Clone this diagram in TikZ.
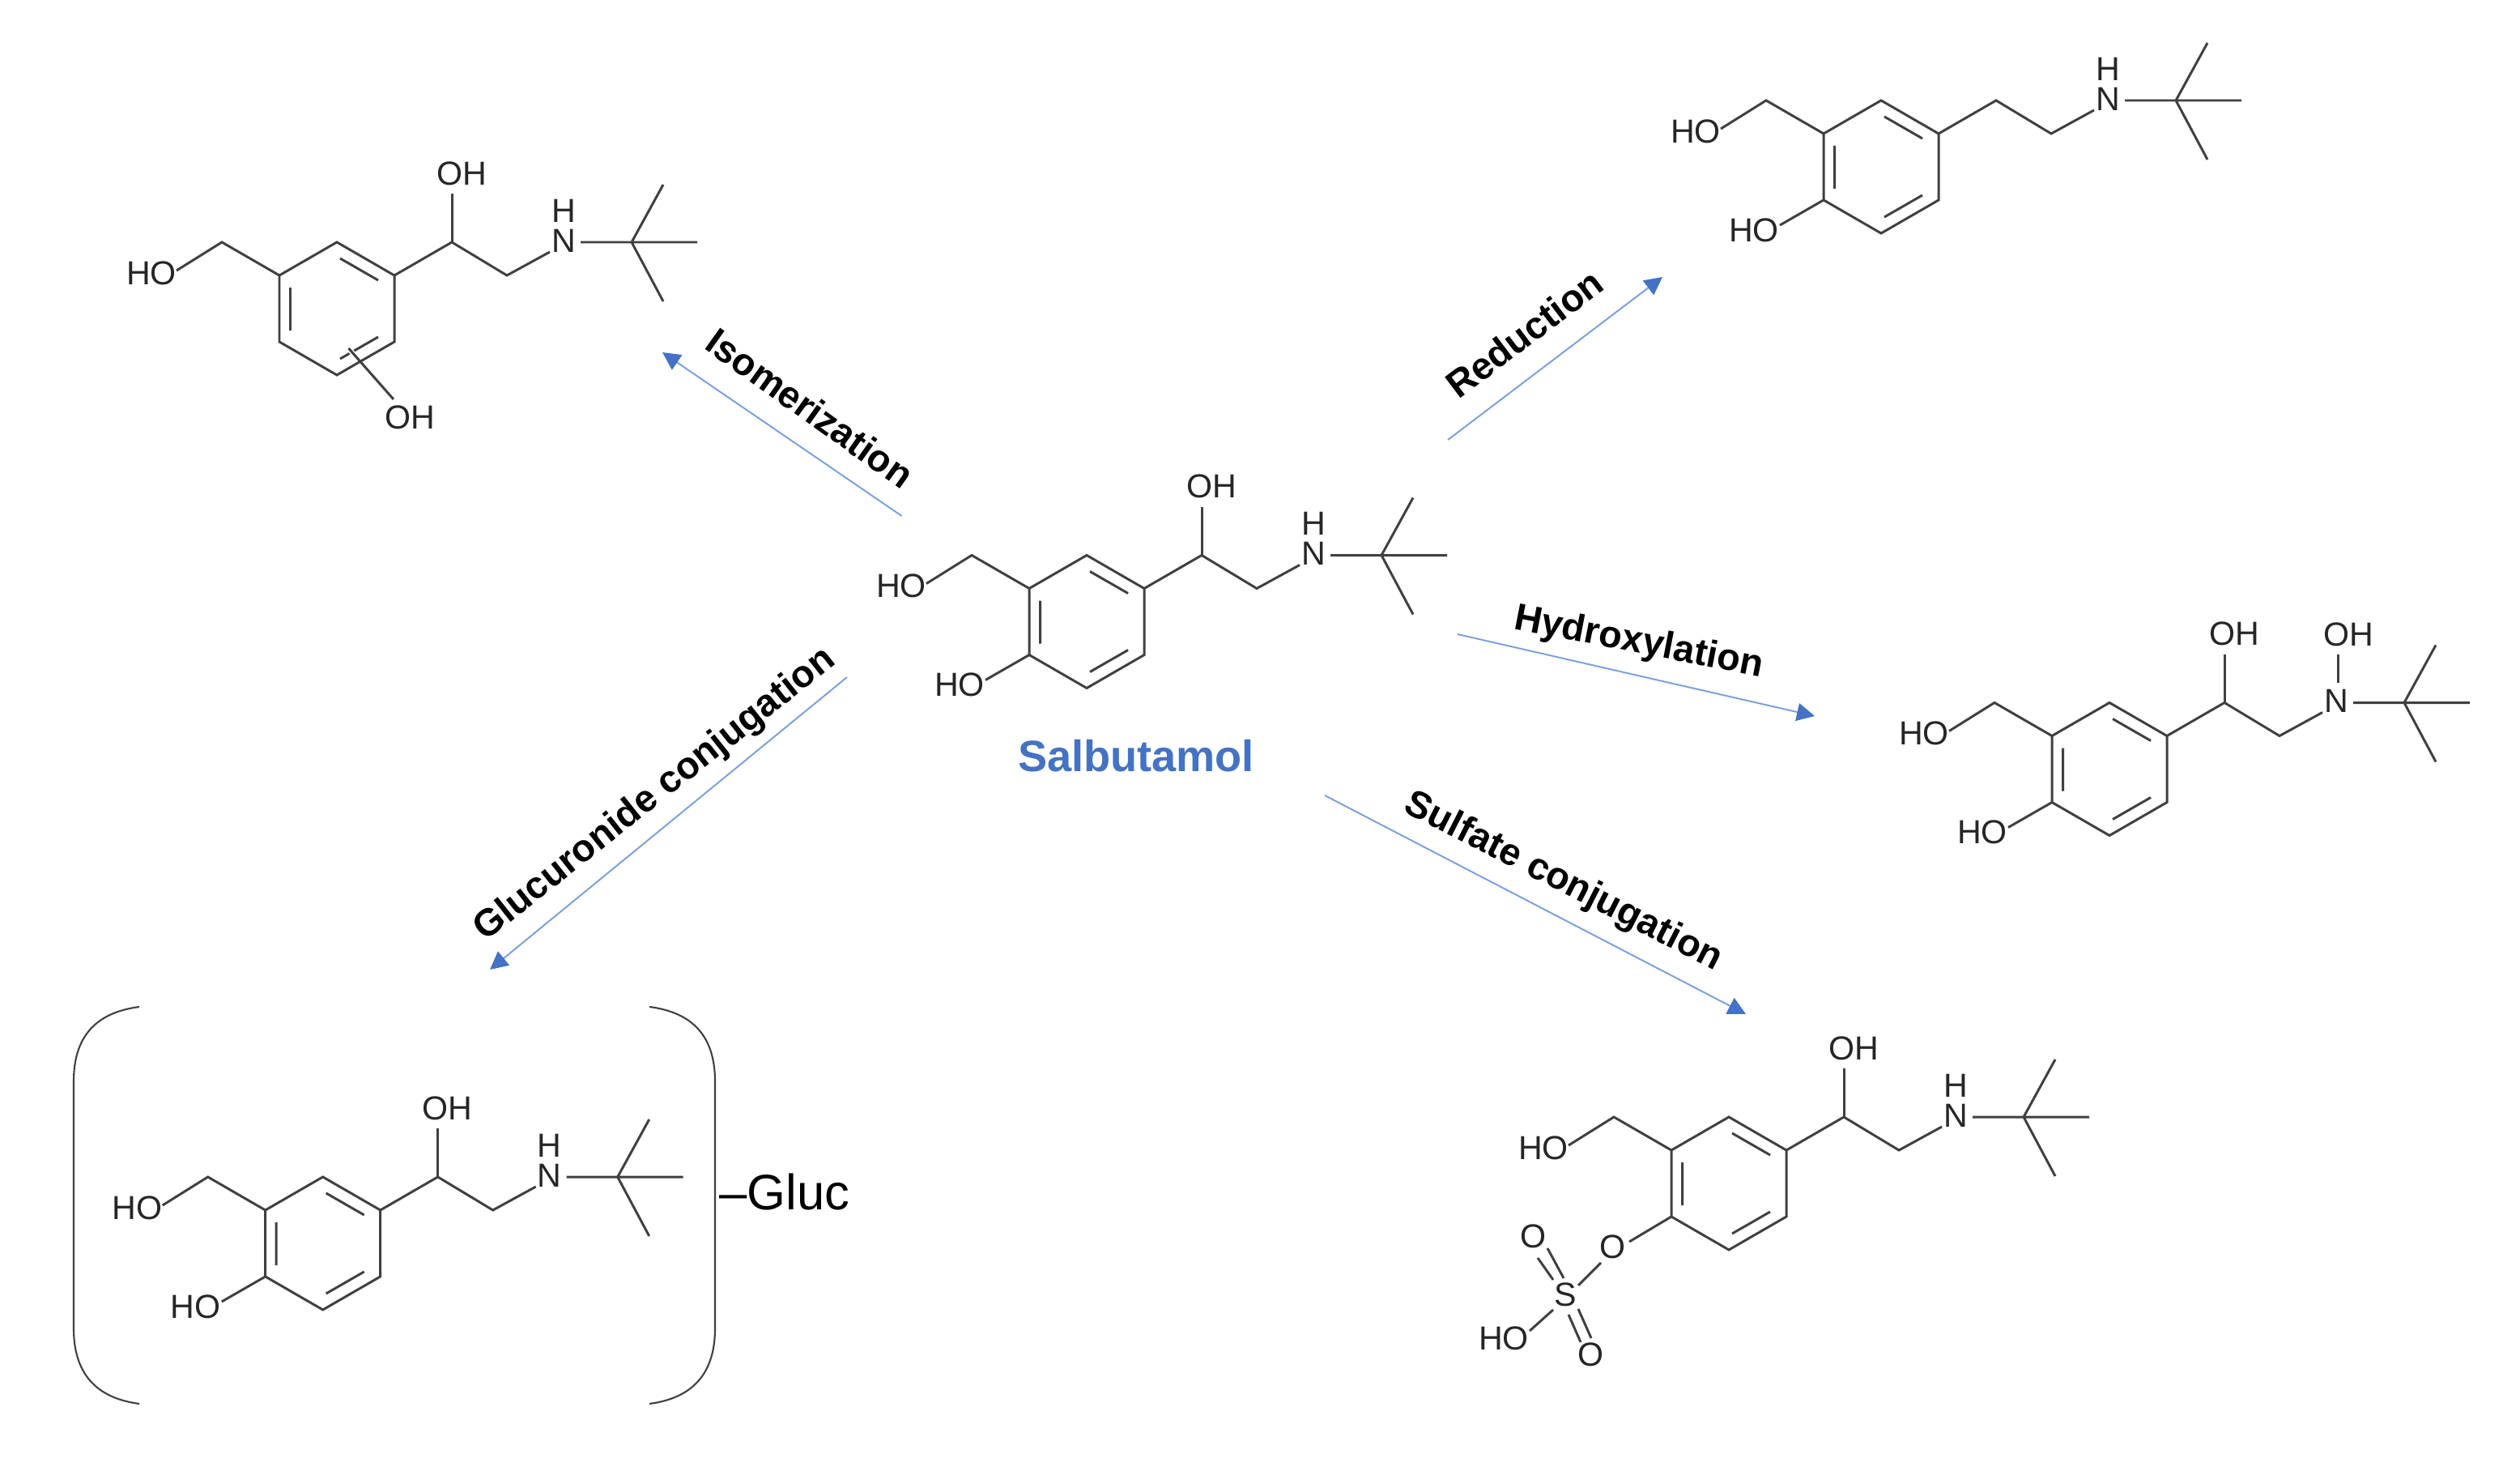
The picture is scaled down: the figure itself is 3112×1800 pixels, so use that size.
\documentclass[tikz,border=0pt]{standalone}
\usepackage{fontspec}
\setmainfont{Liberation Sans}
\usetikzlibrary{arrows.meta}
\definecolor{bondc}{HTML}{404040}
\definecolor{txtc}{HTML}{262626}
\definecolor{arrowc}{HTML}{7A9FDC}
\definecolor{tipc}{HTML}{4472C4}
\tikzset{
  bond/.style={draw=bondc,line width=0.85pt,line join=miter},
  atom/.style={inner sep=0pt,text=txtc,font=\fontsize{11.7}{12}\selectfont},
  react/.style={draw=arrowc,line width=0.55pt,-{Triangle[length=2.2mm,width=2.2mm,color=tipc]}},
  rlabel/.style={inner sep=0pt,text=black,font=\fontsize{13.3}{14}\selectfont\bfseries,text height=0.72em,text depth=0.21em},
  ringgroup/.pic={
    \coordinate (r1) at (0,-82); \coordinate (r2) at (71,-41); \coordinate (r3) at (71,41);
    \coordinate (r4) at (0,82); \coordinate (r5) at (-71,41); \coordinate (r6) at (-71,-41);
    \coordinate (ch) at (-142,-82); \coordinate (hoe) at (-198,-47);
    \coordinate (d1a) at (4,-62); \coordinate (d1b) at (51,-35);
    \coordinate (d2a) at (-57.5,-26); \coordinate (d2b) at (-57.5,27);
    \coordinate (d3a) at (4,62); \coordinate (d3b) at (51,35);
    \node[atom] (ho) at (-229,-44) {HO};
    \draw[bond] (r1)--(r2)--(r3)--(r4)--(r5)--(r6)--cycle;
    \draw[bond] (d1a)--(d1b) (d2a)--(d2b) (d3a)--(d3b);
    \draw[bond] (r6)--(ch)--(hoe);
  },
  phenol/.pic={
    \coordinate (poh) at (-125,72);
    \node[atom] (hop) at (-157,78) {HO};
    \draw[bond] (r5)--(poh);
  },
  sidechain/.pic={
    \coordinate (c1) at (142,-82); \coordinate (c2) at (210,-41); \coordinate (nb) at (263,-70);
    \coordinate (nr) at (301,-82); \coordinate (tb) at (364,-82);
    \coordinate (tr) at (445,-82); \coordinate (tu) at (403,-153); \coordinate (td) at (403,-9);
    \node[atom] (n) at (280,-84) {N};
    \draw[bond] (r2)--(c1)--(c2)--(nb);
    \draw[bond] (nr)--(tr) (tb)--(tu) (tb)--(td);
  },
  secamine/.pic={\node[atom] (h) at (280,-121) {H};},
  carbinol/.pic={
    \coordinate (ohb) at (142,-142);
    \node[atom] (oh) at (154,-167) {OH};
    \draw[bond] (c1)--(ohb);
  }
}
\begin{document}
\begin{tikzpicture}[x=0.01cm,y=-0.01cm]
\useasboundingbox (0,0) rectangle (3112,1800);
% Salbutamol
\pic (s) at (1342,767.5) {ringgroup};
\pic (s) at (1342,767.5) {phenol};
\pic (s) at (1342,767.5) {sidechain};
\pic (s) at (1342,767.5) {secamine};
\pic (s) at (1342,767.5) {carbinol};
\node[inner sep=0pt,text=tipc,font=\fontsize{15.4}{15}\selectfont\bfseries] (name) at (1403,933) {Salbutamol};
% Isomerization
\pic (i) at (416,381) {ringgroup};
\pic (i) at (416,381) {sidechain};
\pic (i) at (416,381) {secamine};
\pic (i) at (416,381) {carbinol};
\coordinate (ia) at (430.5,430); \coordinate (ib) at (486,493); \coordinate (iw) at (438,439);
\node[atom] (ioh) at (506,515) {OH};
\draw[white,line width=1.8pt] (ia)--(iw);
\draw[bond] (ia)--(ib);
% Reduction
\pic (r) at (2323,206) {ringgroup};
\pic (r) at (2323,206) {phenol};
\pic (r) at (2323,206) {sidechain};
\pic (r) at (2323,206) {secamine};
% Hydroxylation
\pic (h) at (2605,949.5) {ringgroup};
\pic (h) at (2605,949.5) {phenol};
\pic (h) at (2605,949.5) {sidechain};
\pic (h) at (2605,949.5) {carbinol};
\coordinate (hna) at (2887,808); \coordinate (hnb) at (2887,843);
\node[atom] (hnoh) at (2900,783.5) {OH};
\draw[bond] (hna)--(hnb);
% Sulfate
\pic (u) at (2135,1461) {ringgroup};
\pic (u) at (2135,1461) {sidechain};
\pic (u) at (2135,1461) {secamine};
\pic (u) at (2135,1461) {carbinol};
\node[atom] (uo) at (1991,1539) {O};
\node[atom] (us) at (1933,1598) {S};
\node[atom] (uo1) at (1893,1526) {O};
\node[atom] (uo2) at (1964,1672) {O};
\node[atom] (uho) at (1857,1652) {HO};
\coordinate (ub) at (2012,1533);
\coordinate (ua) at (1977,1559); \coordinate (uc) at (1949,1587);
\coordinate (ud) at (1911,1541); \coordinate (ue) at (1931,1578);
\coordinate (uf) at (1899,1553); \coordinate (ug) at (1918,1580);
\coordinate (uh) at (1949,1616); \coordinate (ui) at (1965,1652);
\coordinate (uj) at (1937,1623); \coordinate (uk) at (1952,1657);
\coordinate (ul) at (1918,1617); \coordinate (um) at (1889,1643);
\draw[bond] (ur5)--(ub) (ua)--(uc) (ud)--(ue) (uf)--(ug) (uh)--(ui) (uj)--(uk) (ul)--(um);
% Glucuronide
\pic (g) at (398.7,1535) {ringgroup};
\pic (g) at (398.7,1535) {phenol};
\pic (g) at (398.7,1535) {sidechain};
\pic (g) at (398.7,1535) {secamine};
\pic (g) at (398.7,1535) {carbinol};
\coordinate (la) at (172,1243); \coordinate (lb) at (91,1335); \coordinate (lc) at (91,1640); \coordinate (ld) at (172,1733);
\coordinate (ra) at (802,1243); \coordinate (rb) at (883,1335); \coordinate (rc) at (883,1640); \coordinate (rd) at (802,1733);
\draw[bond,line width=0.6pt] (la) .. controls (118,1250) and (91,1280) .. (lb) -- (lc) .. controls (91,1695) and (118,1726) .. (ld);
\draw[bond,line width=0.6pt] (ra) .. controls (856,1250) and (883,1280) .. (rb) -- (rc) .. controls (883,1695) and (856,1726) .. (rd);
\node[inner sep=0pt,anchor=base west,text=black,font=\fontsize{17.5}{18}\selectfont] (gluc) at (888,1493) {–Gluc};
% Reaction arrows
\coordinate (a1s) at (1113.6,637); \coordinate (a1e) at (818,435);
\coordinate (a2s) at (1788,543); \coordinate (a2e) at (2053,342);
\coordinate (a3s) at (1800,783); \coordinate (a3e) at (2241,884);
\coordinate (a4s) at (1636,982); \coordinate (a4e) at (2156,1252);
\coordinate (a5s) at (1046,836); \coordinate (a5e) at (605,1197);
\draw[react] (a1s)--(a1e);
\draw[react] (a2s)--(a2e);
\draw[react] (a3s)--(a3e);
\draw[react] (a4s)--(a4e);
\draw[react] (a5s)--(a5e);
\node[rlabel,rotate=-35.5] (l1) at (996,510) {Isomerization};
\node[rlabel,rotate=37] (l2) at (1887,418) {Reduction};
\node[rlabel,rotate=-11] (l3) at (2023,797) {Hydroxylation};
\node[rlabel,rotate=-27] (l4) at (1929,1092) {Sulfate conjugation};
\node[rlabel,rotate=38.4] (l5) at (811,984) {Glucuronide conjugation};
\end{tikzpicture}
\end{document}
